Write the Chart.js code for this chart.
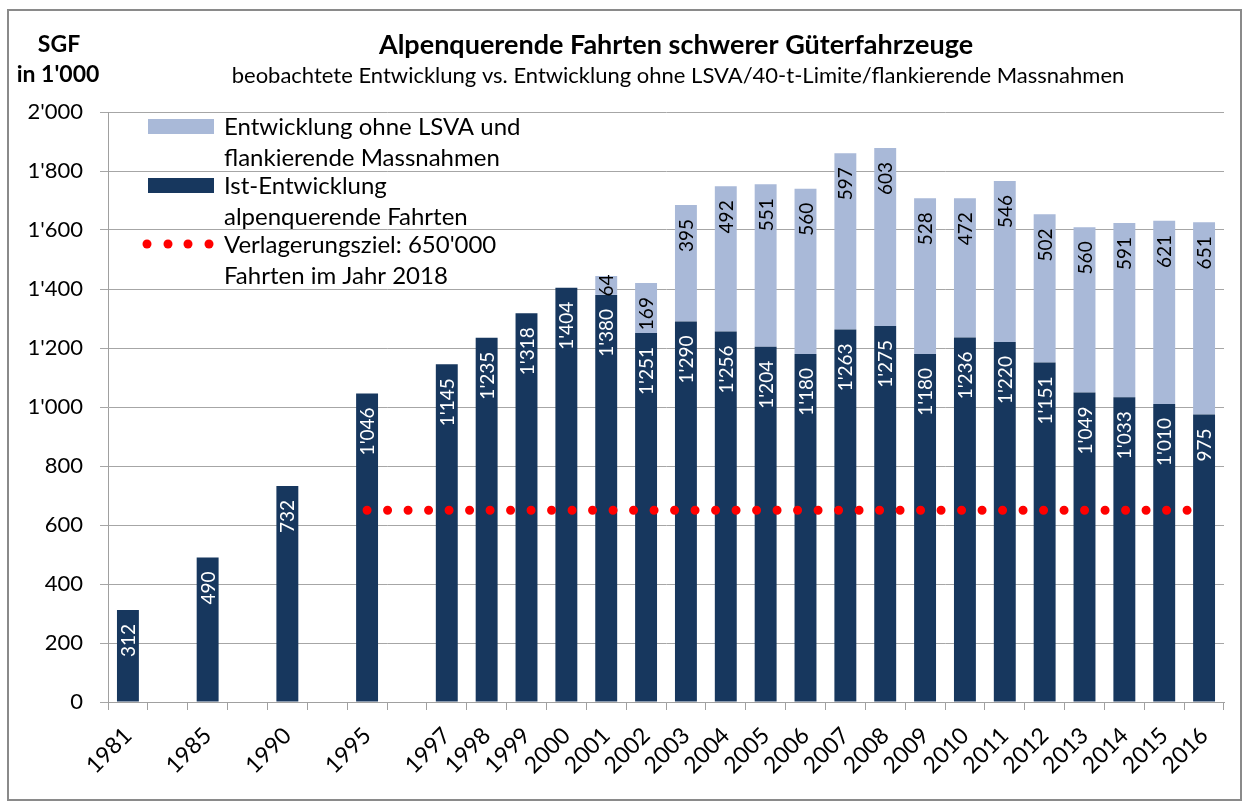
<!DOCTYPE html>
<html>
  <head>
    <title>Alpenquerende Fahrten</title>
    <script src="https://cdn.jsdelivr.net/npm/chart.js@4.4.1/dist/chart.umd.min.js"></script>
    <style>
      body { margin: 0; background: #fff; }
      #container { width: 1248px; height: 803px; }
    </style>
  </head>
  <body>
    <div id="container"><canvas id="canvas"></canvas></div>
    <script>
      const years = ['1981', '', '1985', '', '1990', '', '1995', '', '1997', '1998', '1999', '2000', '2001', '2002',
        '2003', '2004', '2005', '2006', '2007', '2008', '2009', '2010', '2011', '2012', '2013', '2014', '2015', '2016'];
      // Ist-Entwicklung (SGF in 1'000)
      const ist = [312, null, 490, null, 732, null, 1046, null, 1145, 1235, 1318, 1404, 1380, 1251,
        1290, 1256, 1204, 1180, 1263, 1275, 1180, 1236, 1220, 1151, 1049, 1033, 1010, 975];
      // Mehrverkehr ohne LSVA/flankierende Massnahmen
      const ohne = [null, null, null, null, null, null, null, null, null, null, null, null, 64, 169,
        395, 492, 551, 560, 597, 603, 528, 472, 546, 502, 560, 591, 621, 651];
      // Verlagerungsziel 650'000 (ab 1995)
      const ziel = [null, null, null, null, null, null, 650, 650, 650, 650, 650, 650, 650, 650,
        650, 650, 650, 650, 650, 650, 650, 650, 650, 650, 650, 650, 650, 650];

      const DARK = '#17375e';
      const LIGHT = '#a9b9d8';
      const FONT = 'Lato, "Open Sans", sans-serif';

      const fmt = (v) => {
        const s = String(Math.round(v));
        return s.length > 3 ? s.slice(0, -3) + "'" + s.slice(-3) : s;
      };

      const frameAndText = {
        id: 'frameAndText',
        beforeDraw(chart) {
          const c = chart.ctx;
          c.save();
          c.fillStyle = '#fff';
          c.fillRect(0, 0, chart.width, chart.height);
          c.restore();
        },
        afterDraw(chart) {
          const c = chart.ctx;
          c.save();
          c.strokeStyle = '#8a8a8a';
          c.lineWidth = 2;
          c.strokeRect(8, 10, 1233, 790);

          c.fillStyle = '#000';
          c.textBaseline = 'middle';
          c.textAlign = 'center';
          c.font = 'bold 23px ' + FONT;
          c.fillText('SGF', 59, 45);
          c.fillText("in 1'000", 58, 75);
          c.font = 'bold 27px ' + FONT;
          c.fillText('Alpenquerende Fahrten schwerer Güterfahrzeuge', 676, 45);
          c.font = '22px ' + FONT;
          c.fillText('beobachtete Entwicklung vs. Entwicklung ohne LSVA/40-t-Limite/flankierende Massnahmen', 678, 76);

          // legend
          c.fillStyle = LIGHT;
          c.fillRect(148, 119, 66, 15);
          c.fillStyle = DARK;
          c.fillRect(148, 178, 66, 15);
          c.fillStyle = '#ff0000';
          [147, 168, 188, 209].forEach((x) => {
            c.beginPath();
            c.arc(x, 244, 4.5, 0, Math.PI * 2);
            c.fill();
          });
          c.fillStyle = '#000';
          c.textAlign = 'left';
          c.font = '24px ' + FONT;
          c.fillText('Entwicklung ohne LSVA und', 224, 127);
          c.fillText('flankierende Massnahmen', 224, 158);
          c.fillText('Ist-Entwicklung', 224, 186);
          c.fillText('alpenquerende Fahrten', 224, 217);
          c.fillText("Verlagerungsziel: 650'000", 224, 245);
          c.fillText('Fahrten im Jahr 2018', 224, 276);
          c.restore();
        },
      };

      const barLabels = {
        id: 'barLabels',
        afterDatasetsDraw(chart) {
          const c = chart.ctx;
          c.save();
          c.font = '19px ' + FONT;
          c.textBaseline = 'middle';
          c.textAlign = 'right';
          [0, 1].forEach((di) => {
            const meta = chart.getDatasetMeta(di);
            const values = chart.data.datasets[di].data;
            meta.data.forEach((bar, i) => {
              const v = values[i];
              if (v == null) return;
              const txt = fmt(v);
              const w = c.measureText(txt).width;
              const top = Math.min(bar.y, bar.base);
              const bottom = Math.max(bar.y, bar.base);
              const pad = 14;
              let endY = top + pad;
              if (top + pad + w > bottom) endY = (top + bottom) / 2 - w / 2;
              c.save();
              c.fillStyle = di === 0 ? '#ffffff' : '#000000';
              c.translate(bar.x + 1, endY);
              c.rotate(-Math.PI / 2);
              c.fillText(txt, 0, 0);
              c.restore();
            });
          });
          c.restore();
        },
      };

      window.onload = () => {
        const ctx = document.getElementById('canvas').getContext('2d');
        new Chart(ctx, {
          type: 'bar',
          data: {
            labels: years,
            datasets: [
              {
                label: 'Ist-Entwicklung alpenquerende Fahrten',
                data: ist,
                backgroundColor: DARK,
                barPercentage: 0.55,
                categoryPercentage: 1,
                order: 1,
              },
              {
                label: 'Entwicklung ohne LSVA und flankierende Massnahmen',
                data: ohne,
                backgroundColor: LIGHT,
                barPercentage: 0.55,
                categoryPercentage: 1,
                order: 1,
              },
              {
                type: 'line',
                label: "Verlagerungsziel: 650'000 Fahrten im Jahr 2018",
                data: ziel,
                borderColor: '#ff0000',
                borderWidth: 9,
                borderDash: [0, 20.5],
                borderCapStyle: 'round',
                pointRadius: 0,
                fill: false,
                order: 0,
              },
            ],
          },
          options: {
            responsive: true,
            maintainAspectRatio: false,
            animation: false,
            layout: { padding: { top: 112, left: 0, right: 24, bottom: 0 } },
            plugins: {
              legend: { display: false },
              title: { display: false },
              tooltip: { enabled: false },
            },
            scales: {
              x: {
                stacked: true,
                afterFit: (scale) => { scale.height = 101; },
                grid: { offset: true, drawOnChartArea: false, drawTicks: true, tickLength: 8, color: '#a0a0a0' },
                border: { display: true, color: '#a0a0a0' },
                ticks: {
                  autoSkip: false,
                  maxRotation: 45,
                  minRotation: 45,
                  padding: 12,
                  color: '#000',
                  font: { family: FONT, size: 23 },
                },
              },
              y: {
                stacked: true,
                min: 0,
                max: 2000,
                afterFit: (scale) => { scale.width = 108; },
                grid: { color: '#a6a6a6', tickLength: 8 },
                border: { display: true, color: '#a0a0a0' },
                ticks: {
                  stepSize: 200,
                  padding: 17,
                  color: '#000',
                  font: { family: FONT, size: 22 },
                  callback: (v) => fmt(v),
                },
              },
            },
          },
          plugins: [frameAndText, barLabels],
        });
      };
    </script>
  </body>
</html>
